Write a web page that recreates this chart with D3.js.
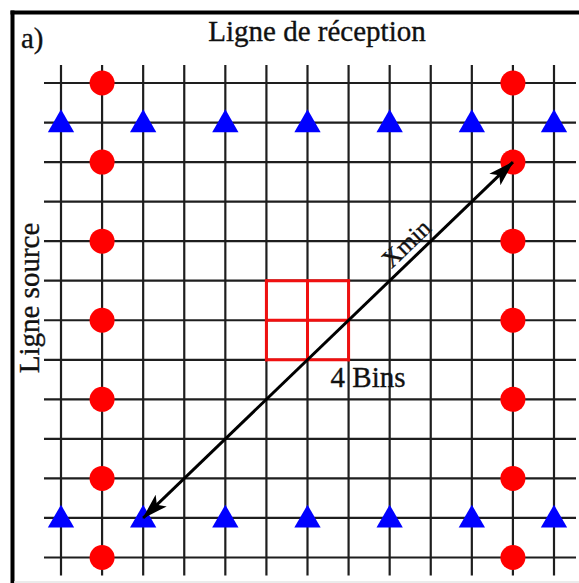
<!DOCTYPE html>
<html>
<head>
<meta charset="utf-8">
<script src="https://cdn.jsdelivr.net/npm/d3@7"></script>
<style>
  html, body { margin: 0; padding: 0; background: #fff; }
  svg { display: block; }
  text { font-family: "Liberation Serif", "DejaVu Serif", serif; fill: #111; stroke: #111; stroke-width: 0.35; }
</style>
</head>
<body>
<script>
// grid of 13 x 13 lines (column / row indices)
const gridCols = d3.range(13);
const gridRows = d3.range(13);

// receivers (red dots) : two receiver lines, every other row
const dotCols = [1, 11];
const dotRows = [0, 2, 4, 6, 8, 10, 12];

// sources (blue triangles) : two source lines, every other column
const triRows = [1, 11];
const triCols = [0, 2, 4, 6, 8, 10, 12];

// 4 bins (2 x 2 cells) and the Xmin arrow
const binCols = [5, 6, 7];
const binRows = [5, 6, 7];
const arrowFrom = [2, 11];
const arrowTo = [11, 2];

const labels = {
    panel: "a)",
    top: "Ligne de réception",
    left: "Ligne source",
    arrow: "Xmin",
    bins: "4 Bins"
};

const WIDTH = 579, HEIGHT = 583;

const svg = d3.select("body").append("svg")
    .attr("width", WIDTH)
    .attr("height", HEIGHT);

const x = d3.scaleLinear().domain([0, 12]).range([61, 554]);
const y = d3.scaleLinear().domain([0, 12]).range([83, 557.5]);

// frame
svg.append("line")
    .attr("x1", 12.5).attr("y1", 10.5).attr("x2", 12.5).attr("y2", HEIGHT)
    .attr("stroke", "#000").attr("stroke-width", 4);
svg.append("line")
    .attr("x1", 10.5).attr("y1", 12.5).attr("x2", WIDTH).attr("y2", 12.5)
    .attr("stroke", "#000").attr("stroke-width", 4);
svg.append("line")
    .attr("x1", 14).attr("y1", 582).attr("x2", WIDTH).attr("y2", 582)
    .attr("stroke", "#e4e4e4").attr("stroke-width", 1.5);

// grid
const grid = svg.append("g").attr("stroke", "#1e1e1e").attr("stroke-width", 2.2);
grid.selectAll("line.v").data(gridCols).join("line")
    .attr("class", "v")
    .attr("x1", d => x(d)).attr("x2", d => x(d))
    .attr("y1", y(0) - 18).attr("y2", y(12) + 18);
grid.selectAll("line.h").data(gridRows).join("line")
    .attr("class", "h")
    .attr("y1", d => y(d)).attr("y2", d => y(d))
    .attr("x1", x(0) - 17).attr("x2", x(12) + 22);

// bins
const bins = svg.append("g").attr("stroke", "#f01010").attr("stroke-width", 3);
bins.selectAll("line.bv").data(binCols).join("line")
    .attr("class", "bv")
    .attr("x1", d => x(d)).attr("x2", d => x(d))
    .attr("y1", y(d3.min(binRows)) - 1.5).attr("y2", y(d3.max(binRows)) + 1.5);
bins.selectAll("line.bh").data(binRows).join("line")
    .attr("class", "bh")
    .attr("y1", d => y(d)).attr("y2", d => y(d))
    .attr("x1", x(d3.min(binCols)) - 1.5).attr("x2", x(d3.max(binCols)) + 1.5);

// receivers
const dots = dotCols.flatMap(c => dotRows.map(r => [c, r]));
svg.append("g").selectAll("circle").data(dots).join("circle")
    .attr("cx", d => x(d[0]))
    .attr("cy", d => y(d[1]))
    .attr("r", 12.5)
    .attr("fill", "#ff0000");

// sources
const tris = triRows.flatMap(r => triCols.map(c => [c, r]));
const triangle = d3.symbol().type(d3.symbolTriangle).size(300);
svg.append("g").selectAll("path").data(tris).join("path")
    .attr("d", triangle)
    .attr("transform", d => `translate(${x(d[0])},${y(d[1]) + 2})`)
    .attr("fill", "#0000ff");

// Xmin arrow
const defs = svg.append("defs");
defs.append("marker")
    .attr("id", "head")
    .attr("viewBox", "0 -10 26 20")
    .attr("refX", 25).attr("refY", 0)
    .attr("markerWidth", 26).attr("markerHeight", 20)
    .attr("markerUnits", "userSpaceOnUse")
    .attr("orient", "auto-start-reverse")
    .append("path")
    .attr("d", "M0,-8L26,0L0,8L6,0Z")
    .attr("fill", "#000");

const ax1 = x(arrowFrom[0]), ay1 = y(arrowFrom[1]);
const ax2 = x(arrowTo[0]), ay2 = y(arrowTo[1]);
svg.append("line")
    .attr("x1", ax1).attr("y1", ay1)
    .attr("x2", ax2).attr("y2", ay2)
    .attr("stroke", "#000").attr("stroke-width", 3)
    .attr("marker-start", "url(#head)")
    .attr("marker-end", "url(#head)");

const ang = Math.atan2(ay2 - ay1, ax2 - ax1) * 180 / Math.PI;
const t = 0.74;
const mx = ax1 + (ax2 - ax1) * t, my = ay1 + (ay2 - ay1) * t;
svg.append("text")
    .attr("transform", `translate(${mx},${my}) rotate(${ang}) translate(0,-7)`)
    .attr("text-anchor", "middle")
    .attr("font-size", 25)
    .text(labels.arrow);

// labels
svg.append("text")
    .attr("x", 21).attr("y", 48)
    .attr("font-size", 29)
    .text(labels.panel);

svg.append("text")
    .attr("x", 317).attr("y", 41)
    .attr("text-anchor", "middle")
    .attr("font-size", 29)
    .text(labels.top);

svg.append("text")
    .attr("transform", "translate(39,298) rotate(-90)")
    .attr("text-anchor", "middle")
    .attr("font-size", 29)
    .text(labels.left);

svg.append("text")
    .attr("x", x(d3.max(binCols)) - 18).attr("y", 387)
    .attr("font-size", 29)
    .text(labels.bins);
</script>
</body>
</html>
